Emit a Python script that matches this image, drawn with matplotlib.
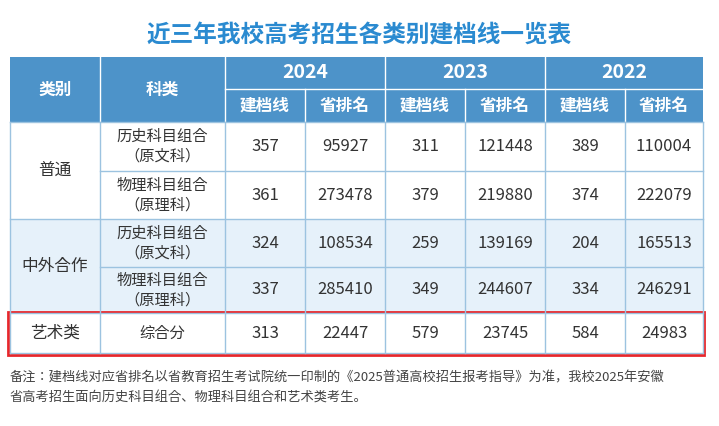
import matplotlib
matplotlib.use("Agg")
import matplotlib.pyplot as plt
from matplotlib.patches import Rectangle

plt.rcParams['font.family'] = ['Noto Sans CJK JP', 'Noto Sans CJK SC', 'Noto Sans CJK TC', 'DejaVu Sans']

title = "近三年我校高考招生各类别建档线一览表"
years = ["2024", "2023", "2022"]
sub_headers = ["建档线", "省排名"]
groups = ["普通", "中外合作", "艺术类"]
subjects = ["历史科目组合\n（原文科）", "物理科目组合\n（原理科）",
            "历史科目组合\n（原文科）", "物理科目组合\n（原理科）", "综合分"]
values = [
    [357, 95927, 311, 121448, 389, 110004],
    [361, 273478, 379, 219880, 374, 222079],
    [324, 108534, 259, 139169, 204, 165513],
    [337, 285410, 349, 244607, 334, 246291],
    [313, 22447, 579, 23745, 584, 24983],
]
note = ("备注：建档线对应省排名以省教育招生考试院统一印制的《2025普通高校招生报考指导》为准，我校2025年安徽\n"
        "省高考招生面向历史科目组合、物理科目组合和艺术类考生。")

fig = plt.figure(figsize=(7.19, 4.26), dpi=100)
ax = fig.add_axes([0, 0, 1, 1])
ax.set_xlim(0, 719); ax.set_ylim(426, 0); ax.axis('off')

xs = [10, 100, 225, 305, 385, 465, 545, 625, 703]
ys = [57, 89, 122, 171, 219, 267, 313, 353]
hdr = "#4d93c9"; line = "#9cc3e0"; light = "#e6f1fa"; txt = "#333333"

ax.text(359, 35, title, ha='center', va='center', fontsize=17, color="#2a8ad0", fontweight='bold')

ax.add_patch(Rectangle((xs[0], ys[0]), xs[-1]-xs[0], ys[2]-ys[0], fc=hdr, ec='none'))
for r in range(5):
    fc = light if r in (2, 3) else "white"
    ax.add_patch(Rectangle((xs[0], ys[r+2]), xs[-1]-xs[0], ys[r+3]-ys[r+2], fc=fc, ec='none'))

wl = dict(color='white', lw=1)
bl = dict(color=line, lw=1)
ax.plot([xs[2], xs[-1]], [ys[1], ys[1]], **wl)
for x in xs[1:-1]:
    y0 = ys[0] if x in (xs[1], xs[2], xs[4], xs[6]) else ys[1]
    ax.plot([x, x], [y0, ys[2]], **wl)
ax.text((xs[0]+xs[1])/2, (ys[0]+ys[2])/2, "类别", ha='center', va='center', fontsize=12, color='white', fontweight='bold')
ax.text((xs[1]+xs[2])/2, (ys[0]+ys[2])/2, "科类", ha='center', va='center', fontsize=12, color='white', fontweight='bold')
for i, y in enumerate(years):
    ax.text((xs[2+2*i]+xs[4+2*i])/2, (ys[0]+ys[1])/2, y, ha='center', va='center', fontsize=14, color='white', fontweight='bold')
    for j, s in enumerate(sub_headers):
        ax.text((xs[2+2*i+j]+xs[3+2*i+j])/2, (ys[1]+ys[2])/2, s, ha='center', va='center', fontsize=12, color='white', fontweight='bold')

for r in range(2, 8):
    x0 = xs[1] if r in (3, 5) else xs[0]
    ax.plot([x0, xs[-1]], [ys[r], ys[r]], **bl)
for x in xs:
    ax.plot([x, x], [ys[2], ys[-1]], **bl)

group_spans = [(2, 4), (4, 6), (6, 7)]
for g, (a, b) in zip(groups, group_spans):
    ax.text((xs[0]+xs[1])/2, (ys[a]+ys[b])/2, g, ha='center', va='center', fontsize=12, color=txt)
for r in range(5):
    yc = (ys[r+2]+ys[r+3])/2
    ax.text((xs[1]+xs[2])/2, yc, subjects[r], ha='center', va='center', fontsize=11, color=txt, linespacing=1.2)
    for c, v in enumerate(values[r]):
        ax.text((xs[2+c]+xs[3+c])/2, yc, str(v), ha='center', va='center', fontsize=12, color=txt)

ax.add_patch(Rectangle((8, 312), 696, 43, fc='none', ec='#e8262a', lw=2))
ax.text(10, 388, note, ha='left', va='center', fontsize=9.5, color="#444444", linespacing=1.7)

fig.savefig("out.png", dpi=100)
